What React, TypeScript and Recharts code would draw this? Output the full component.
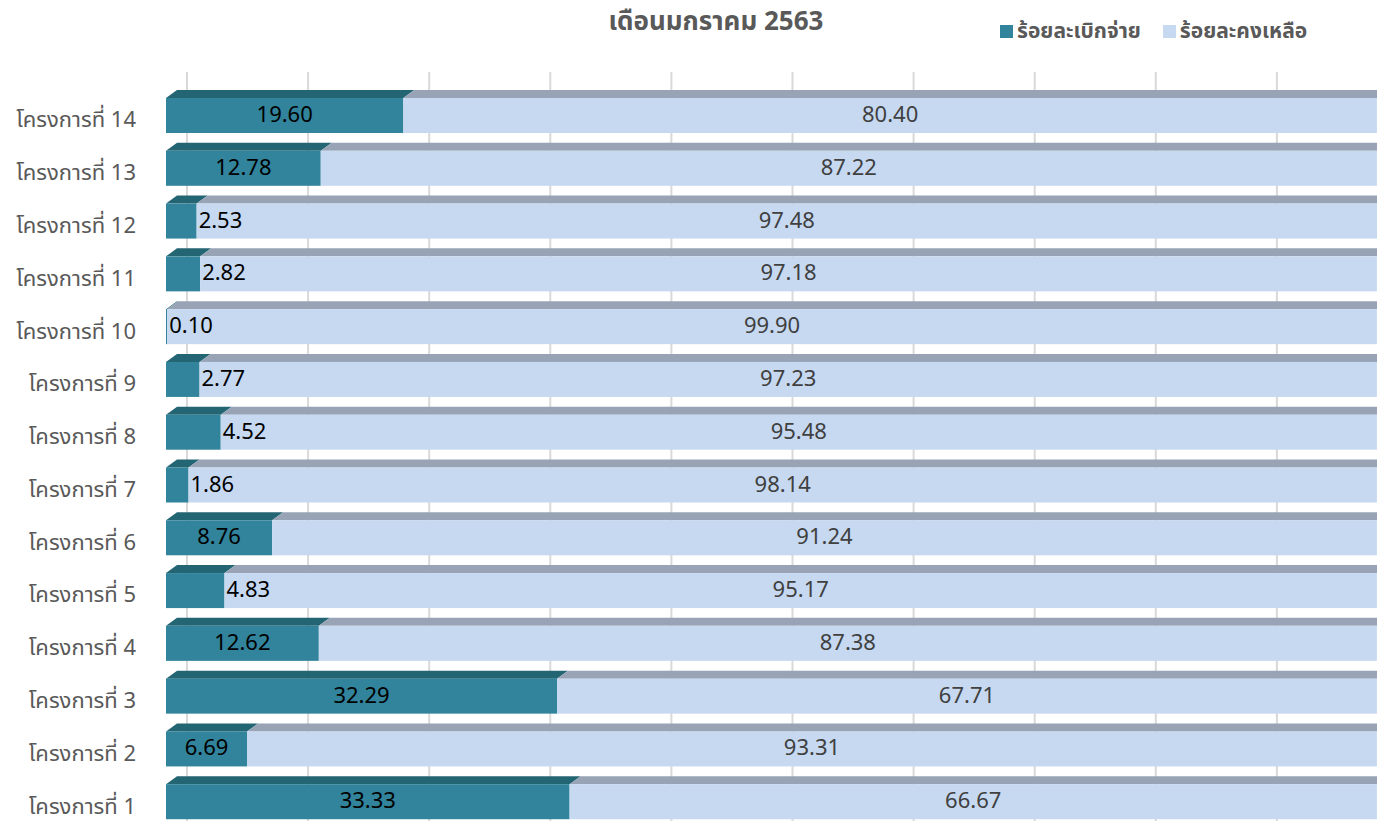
import { Bar, BarChart, CartesianGrid, LabelList, XAxis, YAxis } from "recharts";

const projects = [
  "โครงการที่ 1",
  "โครงการที่ 2",
  "โครงการที่ 3",
  "โครงการที่ 4",
  "โครงการที่ 5",
  "โครงการที่ 6",
  "โครงการที่ 7",
  "โครงการที่ 8",
  "โครงการที่ 9",
  "โครงการที่ 10",
  "โครงการที่ 11",
  "โครงการที่ 12",
  "โครงการที่ 13",
  "โครงการที่ 14",
];
const spent = [33.33, 6.69, 32.29, 12.62, 4.83, 8.76, 1.86, 4.52, 2.77, 0.1, 2.82, 2.53, 12.78, 19.6];
const remaining = [66.67, 93.31, 67.71, 87.38, 95.17, 91.24, 98.14, 95.48, 97.23, 99.9, 97.18, 97.48, 87.22, 80.4];
const gridTicks = [0, 10, 20, 30, 40, 50, 60, 70, 80, 90];

const seriesNames = { spent: "ร้อยละเบิกจ่าย", remaining: "ร้อยละคงเหลือ" };

const data = projects.map((name, i) => ({ name, spent: spent[i], remaining: remaining[i] }));

const FONT = "Tahoma, 'Noto Sans Thai', 'Noto Sans', 'DejaVu Sans', sans-serif";
const TOP = 8; // depth of the top face
const SLANT = 11;
const DEPTH_X = 21; // grid plane sits behind the bars

const Bar3D = (color: string, topColor: string) => (props: any) => {
  const { x, y, width, height } = props;
  if (width == null || height == null) return null;
  return (
    <g>
      <polygon
        points={`${x},${y + TOP} ${x + SLANT},${y} ${x + width + SLANT},${y} ${x + width},${y + TOP}`}
        fill={topColor}
      />
      <rect x={x} y={y + TOP} width={Math.max(width, 0.6)} height={height - TOP} fill={color} />
    </g>
  );
};

const spentLabel = (props: any) => {
  const { x, y, width, height, value } = props;
  const cy = y + TOP + (height - TOP) / 2;
  const narrow = width < 60;
  return (
    <text
      x={narrow ? x + width + 2 : x + width / 2}
      y={cy}
      textAnchor={narrow ? "start" : "middle"}
      dominantBaseline="central"
      fontSize={22}
      fontFamily={FONT}
      fill="#000"
    >
      {Number(value).toFixed(2)}
    </text>
  );
};

const remainingLabel = (props: any) => {
  const { x, y, width, height, value } = props;
  return (
    <text
      x={x + width / 2}
      y={y + TOP + (height - TOP) / 2}
      textAnchor="middle"
      dominantBaseline="central"
      fontSize={22}
      fontFamily={FONT}
      fill="#404040"
    >
      {Number(value).toFixed(2)}
    </text>
  );
};

const ProjectTick = (props: any) => {
  const { y, payload } = props;
  return (
    <text x={136} y={y + 16} textAnchor="end" fontSize={22} fontFamily={FONT} fill="#595959">
      {payload.value}
    </text>
  );
};

const App = () => {
  return (
    <div
      style={{
        position: "fixed",
        top: 0,
        left: 0,
        width: 1377,
        height: 821,
        overflow: "hidden",
        background: "#fff",
        fontFamily: FONT,
      }}
    >
      <div
        style={{
          position: "absolute",
          top: 2,
          left: 0,
          width: 1432,
          textAlign: "center",
          fontSize: 26,
          fontWeight: "bold",
          color: "#595959",
        }}
      >
        เดือนมกราคม 2563
      </div>
      <div
        style={{
          position: "absolute",
          top: 16,
          left: 1000,
          display: "flex",
          alignItems: "center",
          fontSize: 21,
          fontWeight: "bold",
          color: "#595959",
        }}
      >
        <span style={{ width: 13, height: 13, background: "#31849B", marginRight: 4 }} />
        <span style={{ marginRight: 22 }}>{seriesNames.spent}</span>
        <span style={{ width: 13, height: 13, background: "#C6D9F1", marginRight: 4 }} />
        <span>{seriesNames.remaining}</span>
      </div>
      <BarChart
        width={1377}
        height={830}
        data={data}
        layout="vertical"
        margin={{ top: 85, right: 0, bottom: 6, left: 0 }}
        barSize={43}
      >
        <CartesianGrid
          horizontal={false}
          stroke="#D9D9D9"
          strokeWidth={2}
          y={72}
          height={760}
          verticalCoordinatesGenerator={({ offset }: any) =>
            gridTicks.map((t) => offset.left + (t / 100) * offset.width + DEPTH_X)
          }
        />
        <XAxis type="number" domain={[0, 100]} hide />
        <YAxis
          type="category"
          dataKey="name"
          reversed
          width={166}
          axisLine={false}
          tickLine={false}
          tick={<ProjectTick />}
          interval={0}
        />
        <Bar dataKey="spent" name={seriesNames.spent} stackId="a" fill="#31849B" shape={Bar3D("#31849B", "#246573")} isAnimationActive={false}>
          <LabelList dataKey="spent" content={spentLabel} />
        </Bar>
        <Bar
          dataKey="remaining"
          name={seriesNames.remaining}
          stackId="a"
          fill="#C6D9F1"
          shape={Bar3D("#C6D9F1", "#98A4B5")}
          isAnimationActive={false}
        >
          <LabelList dataKey="remaining" content={remainingLabel} />
        </Bar>
      </BarChart>
    </div>
  );
};

export default App;
